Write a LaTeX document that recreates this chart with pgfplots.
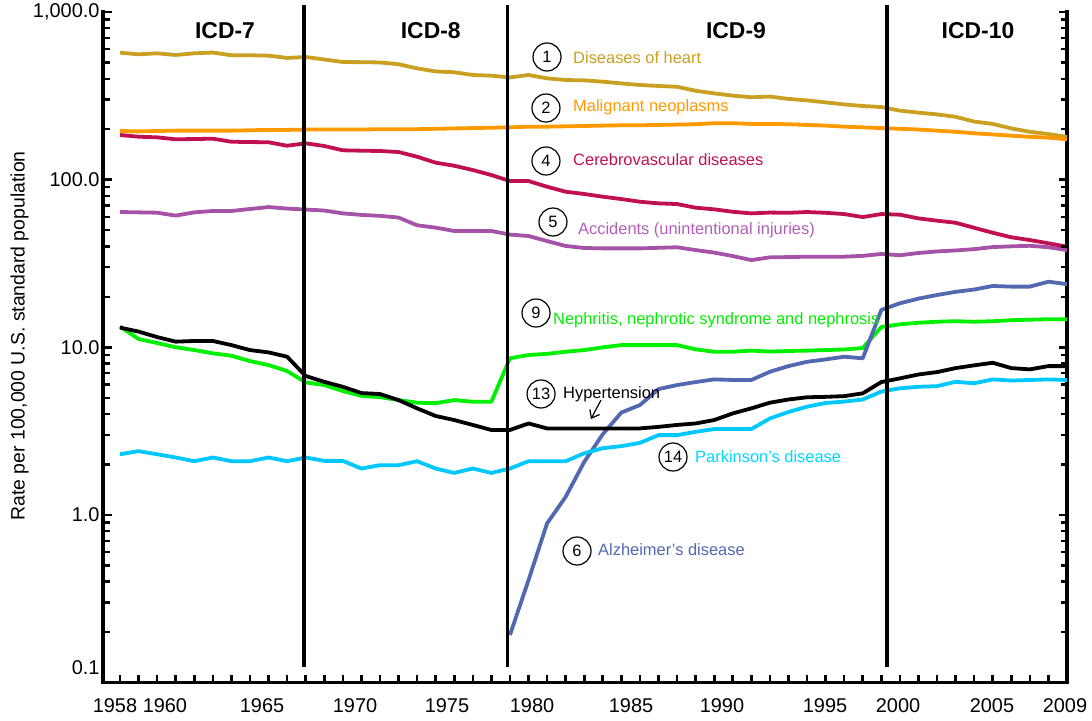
\documentclass[border=0pt]{standalone}
\usepackage{fontspec}
\setmainfont{Liberation Sans}
\usepackage{pgfplots}
\usepackage{pgfplotstable}
\pgfplotsset{compat=1.18}
\usetikzlibrary{arrows.meta,calc}

\definecolor{heart}{RGB}{201,160,34}
\definecolor{cancer}{RGB}{255,153,0}
\definecolor{strokec}{RGB}{193,16,82}
\definecolor{accid}{RGB}{166,82,168}
\definecolor{accidtxt}{RGB}{178,94,184}
\definecolor{nephr}{RGB}{0,240,0}
\definecolor{alz}{RGB}{82,104,176}
\definecolor{park}{RGB}{0,200,255}
\definecolor{parktxt}{RGB}{0,215,255}

\pgfplotstableread{
year heart cancer stroke accid nephr hyper park
1958 572 195 184.6 64.1 13.3 13.1 2.30
1959 559 194 180.3 63.8 11.2 12.4 2.40
1960 567 195 178.8 63.5 10.6 11.5 2.30
1961 554 196 174.0 61.0 10.0 10.8 2.20
1962 567 196 174.7 63.8 9.62 10.9 2.09
1963 573 196 175.4 65.0 9.20 10.9 2.20
1964 552 196 168.3 65.0 8.90 10.3 2.09
1965 552 197 167.6 66.8 8.27 9.62 2.09
1966 549 198 167.0 68.6 7.83 9.32 2.20
1967 532 198 159.3 67.2 7.21 8.78 2.09
1968 539 199 164.7 66.3 6.17 6.74 2.20
1969 521 199 158.7 65.4 5.95 6.22 2.10
1970 503 199 149.6 62.9 5.48 5.81 2.10
1971 502 199 148.8 61.6 5.13 5.33 1.89
1972 500 200 148.2 60.8 5.04 5.26 1.98
1973 488 200 146.1 59.4 4.84 4.84 1.98
1974 461 200 137.0 53.4 4.67 4.32 2.09
1975 442 201 126.2 51.7 4.64 3.89 1.89
1976 437 202 121.0 49.4 4.84 3.68 1.78
1977 421 203 114.1 49.4 4.73 3.44 1.89
1978 417 204 106.5 49.4 4.73 3.21 1.78
1979 407 205 98.1 47.0 8.59 3.21 1.89
1980 421 207 98.1 46.1 8.99 3.51 2.09
1981 402 207 90.7 43.0 9.13 3.28 2.09
1982 393 208 84.7 40.2 9.40 3.28 2.09
1983 391 209 82.1 39.1 9.62 3.28 2.33
1984 384 210 79.1 38.9 9.99 3.28 2.50
1985 375 211 76.6 38.9 10.3 3.28 2.57
1986 367 211 73.8 38.9 10.3 3.28 2.69
1987 362 212 72.2 39.2 10.3 3.35 2.99
1988 358 213 71.5 39.5 10.3 3.44 2.99
1989 339 214 68.0 38.0 9.72 3.51 3.13
1990 327 217 66.5 36.7 9.40 3.68 3.25
1991 317 217 64.3 35.0 9.40 4.03 3.25
1992 310 215 62.9 33.1 9.55 4.32 3.25
1993 313 215 63.6 34.4 9.42 4.67 3.76
1994 303 214 63.4 34.5 9.50 4.88 4.11
1995 297 212 64.1 34.7 9.55 5.03 4.42
1996 289 210 63.4 34.7 9.62 5.06 4.65
1997 281 207 62.3 34.7 9.70 5.11 4.74
1998 275 205 59.8 35.1 9.89 5.31 4.88
1999 271 203 62.3 36.0 13.2 6.20 5.44
2000 258 201 61.8 35.4 13.7 6.52 5.69
2001 251 199 58.7 36.5 14.0 6.88 5.81
2002 245 196 56.9 37.3 14.2 7.11 5.86
2003 237 193 55.3 37.8 14.3 7.51 6.22
2004 222 189 51.6 38.5 14.2 7.80 6.10
2005 215 186 48.2 39.6 14.3 8.08 6.43
2006 202 183 45.3 40.0 14.5 7.51 6.33
2007 193 180 43.6 40.3 14.6 7.38 6.38
2008 187 178 41.7 39.5 14.7 7.72 6.43
2009 180 174 39.8 38.0 14.7 7.72 6.38
}\maindata

\pgfplotstableread{
year alz
1979 0.192
1980 0.408
1981 0.89
1982 1.28
1983 2.07
1984 3.03
1985 4.08
1986 4.52
1987 5.63
1988 5.95
1989 6.20
1990 6.43
1991 6.38
1992 6.38
1993 7.14
1994 7.72
1995 8.19
1996 8.46
1997 8.78
1998 8.59
1999 16.7
2000 18.3
2001 19.5
2002 20.5
2003 21.4
2004 22.1
2005 23.2
2006 23.0
2007 23.0
2008 24.6
2009 23.8
}\alzdata

\begin{document}
\begin{tikzpicture}
\begin{axis}[
  scale only axis,
  width=964bp, height=670.5bp,
  ymode=log, ymin=0.1, ymax=1000,
  xmin=1957.085, xmax=2009,
  clip=false,
  axis line style={line width=3.3bp},
  major tick length=0pt, minor tick length=0pt,
  xtick={1958,1959,...,2009},
  xticklabel=\empty,
  ytick={0.1,1,10,100,1000},
  yticklabels={\raisebox{8.4bp}[0pt][0pt]{0.1},1.0,10.0,100.0,{1,000.0}},
  yticklabel style={font=\fontsize{20}{24}\selectfont},
  ylabel={Rate per 100,000 U.S. standard population},
  every axis y label/.style={at={(axis description cs:-0.0866,0.5168)}, rotate=90, anchor=center, font=\fontsize{19.5}{23}\selectfont},
]
% hide the top spine (the reference has no top axis line)
\draw[white, line width=4.5bp] (rel axis cs:0.0025,1) -- (rel axis cs:0.9975,1);
\coordinate (SW) at (rel axis cs:0,0);
\coordinate (SE) at (rel axis cs:1,0);
\coordinate (NW) at (rel axis cs:0,1);
\coordinate (NE) at (rel axis cs:1,1);

\addplot[heart, line width=3.8bp, line join=round] table[x=year,y=heart] {\maindata};
\addplot[cancer, line width=3.8bp, line join=round] table[x=year,y=cancer] {\maindata};
\addplot[accid, line width=3.8bp, line join=round] table[x=year,y=accid] {\maindata};
\addplot[strokec, line width=3.8bp, line join=round] table[x=year,y=stroke] {\maindata};
\addplot[nephr, line width=3.8bp, line join=round] table[x=year,y=nephr] {\maindata};
\addplot[alz, line width=3.8bp, line join=round] table[x=year,y=alz] {\alzdata};
\addplot[park, line width=3.8bp, line join=round] table[x=year,y=park] {\maindata};
\addplot[black, line width=3.8bp, line join=round] table[x=year,y=hyper] {\maindata};

% ICD revision lines
\draw[line width=3.2bp, black] (axis cs:1967.91,0.1236) -- (axis cs:1967.91,1100);
\draw[line width=3.2bp, black] (axis cs:1978.89,0.1236) -- (axis cs:1978.89,1100);
\draw[line width=3.2bp, black] (axis cs:1999.31,0.1236) -- (axis cs:1999.31,1100);

% x tick labels (placed as in the reference)
\begin{scope}[every node/.style={anchor=north, inner sep=0pt, font=\fontsize{20}{24}\selectfont}]
\node at ([yshift=-15.5bp]axis cs:1957.73,0.1) {1958};
\node at ([yshift=-15.5bp]axis cs:1960.42,0.1) {1960};
\node at ([yshift=-15.5bp]axis cs:1965.65,0.1) {1965};
\node at ([yshift=-15.5bp]axis cs:1970.66,0.1) {1970};
\node at ([yshift=-15.5bp]axis cs:1975.61,0.1) {1975};
\node at ([yshift=-15.5bp]axis cs:1980.19,0.1) {1980};
\node at ([yshift=-15.5bp]axis cs:1985.52,0.1) {1985};
\node at ([yshift=-15.5bp]axis cs:1990.42,0.1) {1990};
\node at ([yshift=-15.5bp]axis cs:1995.97,0.1) {1995};
\node at ([yshift=-15.5bp]axis cs:1999.90,0.1) {2000};
\node at ([yshift=-15.5bp]axis cs:2004.96,0.1) {2005};
\node at ([yshift=-15.5bp]axis cs:2008.89,0.1) {2009};
\end{scope}

\begin{scope}[every node/.style={font=\fontsize{23}{27}\selectfont\bfseries}]
\node at (rel axis cs:0.1266,0.9717) {ICD-7};
\node at (rel axis cs:0.3400,0.9717) {ICD-8};
\node at (rel axis cs:0.6566,0.9717) {ICD-9};
\node at (rel axis cs:0.9077,0.9717) {ICD-10};
\end{scope}

\begin{scope}[circ/.style={circle, draw=black, line width=1.2bp, minimum size=28bp, inner sep=0pt, font=\fontsize{16.5}{19}\selectfont},
  lab/.style={anchor=west, inner sep=0pt, font=\fontsize{16.5}{19}\selectfont}]
\node[circ] at (rel axis cs:0.4606,0.9329) {1};
\node[lab, text=heart] at (rel axis cs:0.4876,0.9314) {Diseases of heart};
\node[circ] at (rel axis cs:0.4595,0.8568) {2};
\node[lab, text=cancer] at (rel axis cs:0.4876,0.8583) {Malignant neoplasms};
\node[circ] at (rel axis cs:0.4595,0.7778) {4};
\node[lab, text=strokec] at (rel axis cs:0.4876,0.7793) {Cerebrovascular diseases};
\node[circ] at (rel axis cs:0.4668,0.6868) {5};
\node[lab, text=accidtxt] at (rel axis cs:0.4927,0.6749) {Accidents (unintentional injuries)};
\node[circ] at (rel axis cs:0.4492,0.5511) {9};
\node[lab, text=nephr] at (rel axis cs:0.4668,0.5406) {Nephritis, nephrotic syndrome and nephrosis};
\node[circ] at (rel axis cs:0.4544,0.4303) {13};
\node[lab, text=black] at (rel axis cs:0.4772,0.4303) {Hypertension};
\draw[line width=1.2bp, -{Straight Barb[length=7bp,width=11bp]}] (rel axis cs:0.5166,0.4213) -- (rel axis cs:0.5062,0.3930);
\node[circ] at (rel axis cs:0.5913,0.3363) {14};
\node[lab, text=parktxt] at (rel axis cs:0.6141,0.3363) {Parkinson’s disease};
\node[circ] at (rel axis cs:0.4917,0.1961) {6};
\node[lab, text=alz] at (rel axis cs:0.5135,0.1976) {Alzheimer’s disease};
\end{scope}
\end{axis}

% tick marks, pointing inwards (every year on x; decades and 2..9 on the log y axis, both sides)
\foreach \yr in {1958,1959,...,2009}{
  \pgfmathsetmacro\f{(\yr-1957.085)/51.915}
  \draw[line width=2.6bp] ($(SW)!\f!(SE)$) -- ++(0,7.5bp);
}
\foreach \f in {0,0.25,0.5,0.75,1}{
  \draw[line width=2.6bp] ($(SW)!\f!(NW)$) -- ++(8.5bp,0);
  \draw[line width=2.6bp] ($(SE)!\f!(NE)$) -- ++(-8.5bp,0);
}
\foreach \d in {0,1,2,3}{
  \foreach \m in {2,...,9}{
    \pgfmathsetmacro\f{(\d+log10(\m))/4}
    \draw[line width=2.4bp] ($(SW)!\f!(NW)$) -- ++(6.5bp,0);
    \draw[line width=2.4bp] ($(SE)!\f!(NE)$) -- ++(-6.5bp,0);
  }
}
\path ([shift={(-103bp,-38.5bp)}]current axis.south west) rectangle ++(1092bp,721bp);
\end{tikzpicture}
\end{document}
